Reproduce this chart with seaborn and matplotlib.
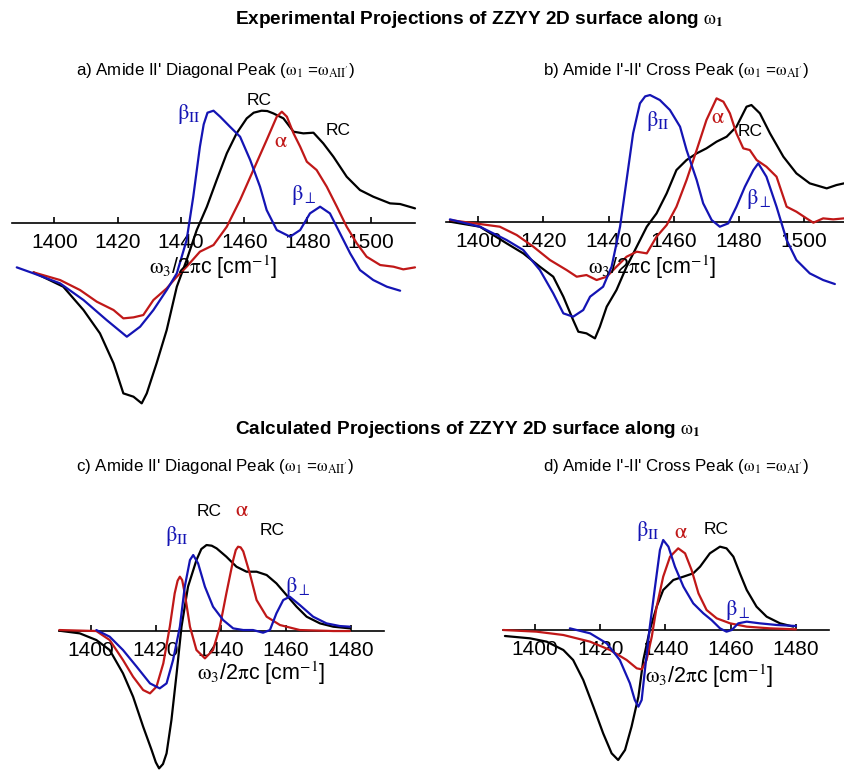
import numpy as np
import pandas as pd
import matplotlib
matplotlib.use("Agg")
import matplotlib.pyplot as plt
import seaborn as sns

# ---------------- data ----------------
# Panel a: Experimental, Amide II' diagonal peak
a_rc_x = [1393.4, 1402.8, 1409.2, 1414.4, 1418.7, 1421.8, 1425.0, 1427.6, 1429.2, 1432.3, 1435.5,
          1438.7, 1441.8, 1445.0, 1448.2, 1451.3, 1454.5, 1457.6, 1460.8, 1463.0, 1465.5, 1467.3,
          1469.2, 1472.4, 1475.6, 1478.7, 1481.9, 1485.0, 1488.2, 1492.4, 1496.6, 1500.8, 1506.1,
          1509.3, 1514.0]
a_rc_y = [-1.49, -1.92, -2.62, -3.32, -4.22, -5.12, -5.22, -5.42, -5.12, -4.22, -3.22,
          -1.92, -1.12, -0.22, 0.48, 1.28, 2.08, 2.68, 3.13, 3.30, 3.36, 3.35,
          3.28, 3.13, 2.73, 2.68, 2.70, 2.38, 1.98, 1.38, 0.98, 0.78, 0.58,
          0.56, 0.43]
a_al_x = [1393.4, 1401.8, 1408.1, 1413.4, 1418.7, 1421.8, 1425.0, 1428.1, 1431.3, 1435.5, 1438.7,
          1441.8, 1446.0, 1450.3, 1454.5, 1458.7, 1462.9, 1467.1, 1470.3, 1471.9, 1473.5, 1475.6,
          1477.7, 1479.8, 1482.9, 1486.1, 1489.3, 1492.4, 1495.6, 1498.7, 1503.0, 1507.2, 1510.3, 1514.0]
a_al_y = [-1.49, -1.72, -2.02, -2.37, -2.62, -2.87, -2.84, -2.77, -2.32, -1.97, -1.62,
          -1.32, -0.87, -0.67, -0.12, 0.68, 1.58, 2.48, 3.18, 3.33, 3.18, 2.68,
          2.28, 1.83, 1.58, 1.08, 0.48, -0.12, -0.62, -1.02, -1.27, -1.32, -1.40, -1.34]
a_be_x = [1388.1, 1393.4, 1401.8, 1409.2, 1416.5, 1422.9, 1427.1, 1431.3, 1435.5, 1438.7, 1441.8,
          1443.9, 1446.0, 1447.2, 1448.4, 1450.3, 1452.4, 1455.5, 1458.7, 1461.9, 1465.0, 1467.1,
          1470.3, 1474.5, 1477.7, 1480.8, 1484.0, 1487.1, 1490.3, 1493.5, 1496.6, 1500.8, 1505.1, 1509.3]
a_be_y = [-1.34, -1.52, -1.82, -2.32, -2.92, -3.42, -3.12, -2.62, -2.02, -1.52, -0.52,
          0.78, 2.28, 2.95, 3.30, 3.36, 3.18, 2.88, 2.58, 1.88, 1.08, 0.38,
          -0.22, -0.42, -0.22, 0.28, 0.48, 0.28, -0.32, -0.92, -1.42, -1.72, -1.92, -2.04]

# Panel b: Experimental, Amide I'-II' cross peak
b_rc_x = [1391.3, 1400.5, 1408.7, 1413.8, 1418.9, 1423.0, 1426.1, 1429.1, 1430.7, 1433.2, 1435.8,
          1437.3, 1439.4, 1442.4, 1445.5, 1448.6, 1451.7, 1454.7, 1457.8, 1460.8, 1463.9, 1467.0,
          1470.0, 1473.1, 1476.2, 1479.2, 1482.3, 1483.8, 1486.4, 1489.5, 1493.6, 1497.6, 1501.7,
          1506.9, 1509.9, 1512.2]
b_rc_y = [0.00, -0.15, -0.65, -0.95, -1.35, -1.65, -2.25, -2.95, -3.30, -3.35, -3.50,
          -3.15, -2.55, -2.05, -1.35, -0.75, -0.15, 0.25, 0.85, 1.55, 1.85, 2.05,
          2.20, 2.40, 2.55, 2.85, 3.45, 3.50, 3.25, 2.65, 1.95, 1.45, 1.15,
          1.00, 1.10, 1.15]
b_al_x = [1391.3, 1400.5, 1406.6, 1411.8, 1416.9, 1422.0, 1427.1, 1430.2, 1433.2, 1436.3, 1439.4,
          1442.4, 1445.5, 1448.6, 1451.7, 1454.7, 1457.8, 1460.8, 1463.9, 1467.0, 1470.0, 1473.1,
          1475.2, 1477.2, 1479.2, 1481.3, 1483.3, 1485.4, 1488.4, 1491.5, 1494.6, 1497.6, 1500.7,
          1502.8, 1505.8, 1508.9, 1512.2]
b_al_y = [0.05, -0.07, -0.15, -0.40, -0.75, -1.15, -1.45, -1.65, -1.60, -1.75, -1.65,
          -1.35, -1.05, -0.90, -0.95, -0.45, -0.10, 0.45, 1.25, 2.15, 3.05, 3.70,
          3.60, 3.25, 2.65, 2.20, 2.15, 1.85, 1.65, 1.35, 0.45, 0.30, 0.10,
          -0.03, 0.10, 0.07, 0.10]
b_be_x = [1391.3, 1400.5, 1408.7, 1413.8, 1418.9, 1423.0, 1426.1, 1429.1, 1432.2, 1434.3, 1438.3,
          1440.9, 1443.5, 1445.5, 1447.5, 1449.6, 1451.2, 1452.7, 1455.7, 1458.8, 1461.9, 1463.9,
          1467.0, 1469.0, 1471.6, 1474.1, 1476.7, 1479.2, 1481.8, 1484.4, 1485.9, 1488.4, 1491.5,
          1494.6, 1497.6, 1501.7, 1505.8, 1509.4]
b_be_y = [0.07, -0.15, -0.55, -0.85, -1.45, -2.15, -2.75, -2.85, -2.65, -2.25, -1.95,
          -1.35, -0.15, 1.25, 2.65, 3.55, 3.76, 3.80, 3.65, 3.35, 2.85, 2.15,
          1.25, 0.55, 0.05, -0.15, -0.05, 0.45, 1.05, 1.55, 1.75, 1.35, 0.45,
          -0.55, -1.15, -1.55, -1.75, -1.87]

# Panel c: Calculated, Amide II' diagonal peak
c_rc_x = [1390.3, 1396.6, 1401.7, 1405.8, 1409.9, 1413.0, 1416.1, 1418.7, 1420.0, 1421.0, 1422.2,
          1423.3, 1424.8, 1426.4, 1427.9, 1429.9, 1432.5, 1434.0, 1435.6, 1437.2, 1438.7, 1441.7,
          1444.8, 1447.9, 1451.0, 1454.1, 1457.1, 1460.2, 1463.3, 1466.4, 1470.5, 1474.6, 1479.7]
c_rc_y = [0.00, -0.08, -0.28, -0.58, -1.28, -1.98, -2.88, -3.58, -3.95, -4.13, -4.00,
          -3.68, -2.68, -1.28, 0.12, 1.32, 2.12, 2.45, 2.57, 2.55, 2.47, 2.22,
          1.92, 1.77, 1.77, 1.67, 1.42, 1.07, 0.72, 0.42, 0.22, 0.12, 0.07]
c_al_x = [1390.3, 1401.7, 1405.8, 1409.9, 1413.0, 1416.1, 1418.2, 1420.2, 1422.3, 1424.3, 1425.8,
          1426.7, 1427.4, 1428.1, 1428.9, 1430.5, 1432.5, 1435.1, 1437.6, 1439.7, 1441.7, 1443.8,
          1444.6, 1445.3, 1446.1, 1446.9, 1448.9, 1451.0, 1454.1, 1458.2, 1464.3, 1474.6, 1479.7]
c_al_y = [0.02, -0.01, -0.28, -0.88, -1.38, -1.78, -1.88, -1.68, -0.98, 0.12, 1.12,
          1.50, 1.62, 1.52, 1.12, 0.12, -0.58, -0.83, -0.58, 0.12, 1.12, 2.12,
          2.42, 2.52, 2.50, 2.38, 1.72, 0.92, 0.42, 0.17, 0.02, -0.01, -0.01]
c_be_x = [1401.7, 1405.8, 1409.9, 1414.1, 1418.2, 1421.2, 1423.3, 1425.3, 1427.4, 1428.9, 1430.5,
          1431.5, 1433.0, 1435.1, 1437.6, 1440.7, 1443.8, 1446.9, 1449.9, 1453.0, 1455.1, 1457.1,
          1459.2, 1461.2, 1464.3, 1468.4, 1472.5, 1476.6, 1479.7]
c_be_y = [0.02, -0.18, -0.58, -1.08, -1.58, -1.73, -1.58, -0.88, 0.12, 1.32, 2.12,
          2.27, 2.02, 1.32, 0.72, 0.32, 0.07, 0.02, 0.02, -0.06, 0.02, 0.52,
          0.92, 1.02, 0.77, 0.42, 0.22, 0.14, 0.12]

# Panel d: Calculated, Amide I'-II' cross peak
d_rc_x = [1390.8, 1398.5, 1403.6, 1408.7, 1411.7, 1414.8, 1417.9, 1420.9, 1423.5, 1425.5, 1427.6,
          1429.6, 1431.7, 1433.2, 1435.2, 1437.3, 1439.3, 1442.4, 1445.5, 1448.5, 1450.6, 1453.6,
          1456.7, 1458.7, 1460.8, 1462.8, 1464.9, 1467.9, 1471.0, 1475.1, 1479.2]
d_rc_y = [-0.18, -0.25, -0.35, -0.60, -0.90, -1.50, -2.30, -3.10, -3.70, -3.90, -3.60,
          -2.90, -2.00, -0.90, 0.00, 0.70, 1.20, 1.50, 1.60, 1.70, 1.90, 2.30,
          2.50, 2.45, 2.20, 1.70, 1.20, 0.70, 0.40, 0.20, 0.10]
d_al_x = [1390.3, 1400.5, 1408.7, 1416.9, 1423.0, 1428.1, 1431.2, 1432.7, 1434.2, 1435.8, 1437.3,
          1439.3, 1441.4, 1443.9, 1446.0, 1448.0, 1450.1, 1452.6, 1455.7, 1459.8, 1464.9, 1472.0, 1480.0]
d_al_y = [0.00, -0.05, -0.15, -0.35, -0.60, -0.90, -1.15, -1.18, -0.90, -0.20, 0.70,
          1.60, 2.20, 2.45, 2.30, 1.80, 1.10, 0.60, 0.35, 0.20, 0.10, 0.05, 0.02]
d_be_x = [1410.7, 1416.9, 1422.0, 1426.0, 1429.1, 1430.6, 1431.7, 1432.7, 1433.7, 1435.2, 1436.8,
          1438.3, 1439.3, 1440.9, 1442.9, 1445.5, 1448.5, 1451.6, 1454.1, 1456.7, 1458.7, 1460.3,
          1462.3, 1464.9, 1468.9, 1474.1, 1480.0]
d_be_y = [0.05, -0.10, -0.40, -0.90, -1.60, -2.10, -2.30, -2.10, -1.20, 0.10, 1.30,
          2.40, 2.70, 2.50, 1.90, 1.30, 0.80, 0.50, 0.30, 0.05, -0.05, 0.00,
          0.20, 0.25, 0.20, 0.15, 0.12]

series_names = ["RC", "alpha", "beta"]
ticks_exp = [1400, 1420, 1440, 1460, 1480, 1500]
ticks_calc = [1400, 1420, 1440, 1460, 1480]

title_exp = r"Experimental Projections of ZZYY 2D surface along $\mathrm{\omega}_\mathbf{1}$"
title_calc = r"Calculated Projections of ZZYY 2D surface along $\mathrm{\omega}_\mathbf{1}$"
sub_a = r"a) Amide II' Diagonal Peak ($\mathrm{\omega}_1$ =$\mathrm{\omega}_{\rm AII'}$)"
sub_b = r"b) Amide I'-II' Cross Peak ($\mathrm{\omega}_1$ =$\mathrm{\omega}_{\rm AI'}$)"
sub_c = r"c) Amide II' Diagonal Peak ($\mathrm{\omega}_1$ =$\mathrm{\omega}_{\rm AII'}$)"
sub_d = r"d) Amide I'-II' Cross Peak ($\mathrm{\omega}_1$ =$\mathrm{\omega}_{\rm AI'}$)"
xlabel_txt = r"$\mathrm{\omega}_3$/2$\mathrm{\pi}$c [cm$^{-1}$]"

# curve annotations: (text, x, y, series)
BII = r"$\mathrm{\beta}_{\rm II}$"
BP = r"$\mathrm{\beta}_\perp$"
AL = r"$\mathrm{\alpha}$"
ann_a = [(BII, 1442.6, 3.25, "beta"), ("RC", 1464.8, 3.66, "RC"),
         ("RC", 1489.8, 2.76, "RC"), (AL, 1471.7, 2.43, "alpha"),
         (BP, 1478.9, 0.83, "beta")]
ann_b = [(BII, 1455.2, 3.03, "beta"), (AL, 1473.6, 3.13, "alpha"),
         ("RC", 1483.3, 2.70, "RC"), (BP, 1486.2, 0.68, "beta")]
ann_c = [(BII, 1426.4, 2.84, "beta"), ("RC", 1436.5, 3.57, "RC"),
         (AL, 1446.4, 3.60, "alpha"), ("RC", 1455.9, 3.02, "RC"),
         (BP, 1463.6, 1.32, "beta")]
ann_d = [(BII, 1434.7, 2.97, "beta"), (AL, 1444.6, 2.93, "alpha"),
         ("RC", 1455.5, 3.00, "RC"), (BP, 1462.2, 0.60, "beta")]

colors = {"RC": "#000000", "alpha": "#c01818", "beta": "#1414b4"}

# ---------------- styling ----------------
sns.set_style("white")
plt.rcParams["font.family"] = ["Liberation Sans", "DejaVu Sans"]
plt.rcParams["text.color"] = "black"
plt.rcParams["mathtext.fontset"] = "custom"
plt.rcParams["mathtext.rm"] = "Liberation Sans"
plt.rcParams["mathtext.it"] = "Liberation Sans:italic"
plt.rcParams["mathtext.bf"] = "Liberation Sans:bold"

W, H = 844, 771
fig = plt.figure(figsize=(W / 100, H / 100), dpi=100)
S = 100.0 / 3.0  # pixels per data unit


def rect(left, right, y0, lo, hi):
    top = y0 - hi * S
    bottom = y0 - lo * S
    return [left / W, 1 - bottom / H, (right - left) / W, (bottom - top) / H]


def make_df(xs_rc, ys_rc, xs_al, ys_al, xs_be, ys_be):
    parts = []
    for name, xs, ys in (("RC", xs_rc, ys_rc), ("alpha", xs_al, ys_al), ("beta", xs_be, ys_be)):
        parts.append(pd.DataFrame({"x": xs, "y": ys, "series": name}))
    return pd.concat(parts, ignore_index=True)


panels = [
    dict(df=make_df(a_rc_x, a_rc_y, a_al_x, a_al_y, a_be_x, a_be_y),
         rect=rect(11.7, 415, 222.7, -5.6, 3.5), xlim=(1386.5, 1514.0), ylim=(-5.6, 3.5),
         ticks=ticks_exp, ann=ann_a, xl=(1450.2, -1.33)),
    dict(df=make_df(b_rc_x, b_rc_y, b_al_x, b_al_y, b_be_x, b_be_y),
         rect=rect(446, 844, 221.7, -3.7, 4.0), xlim=(1390.1, 1512.2), ylim=(-3.7, 4.0),
         ticks=ticks_exp, ann=ann_b, xl=(1453.3, -1.36)),
    dict(df=make_df(c_rc_x, c_rc_y, c_al_x, c_al_y, c_be_x, c_be_y),
         rect=rect(59.3, 384, 630.7, -4.2, 2.8), xlim=(1390.3, 1490.2), ylim=(-4.2, 2.8),
         ticks=ticks_calc, ann=ann_c, xl=(1452.5, -1.28)),
    dict(df=make_df(d_rc_x, d_rc_y, d_al_x, d_al_y, d_be_x, d_be_y),
         rect=rect(503.3, 829.3, 630.0, -4.2, 2.8), xlim=(1390.3, 1490.2), ylim=(-4.2, 2.8),
         ticks=ticks_calc, ann=ann_d, xl=(1453.4, -1.40)),
]

for p in panels:
    ax = fig.add_axes(p["rect"])
    ax.patch.set_alpha(0)
    sns.lineplot(data=p["df"], x="x", y="y", hue="series", hue_order=series_names,
                 palette=colors, estimator=None, sort=False, legend=False,
                 linewidth=1.6, ax=ax, zorder=3)
    for ln in ax.lines:
        ln.set_clip_on(False)
        ln.set_solid_joinstyle("round")
        ln.set_solid_capstyle("round")
    ax.set_xlim(*p["xlim"])
    ax.set_ylim(*p["ylim"])
    ax.set_xticks(p["ticks"])
    ax.set_yticks([])
    ax.set_xlabel("")
    ax.set_ylabel("")
    for sp in ("top", "right", "left"):
        ax.spines[sp].set_visible(False)
    ax.spines["bottom"].set_position(("data", 0))
    ax.spines["bottom"].set_linewidth(1.2)
    ax.spines["bottom"].set_color("black")
    ax.tick_params(axis="x", direction="in", length=4, width=1.2, labelsize=15,
                   pad=7.5, colors="black", bottom=True)
    ax.text(p["xl"][0], p["xl"][1], xlabel_txt, ha="center", va="center",
            fontsize=15.5, color="black", math_fontfamily="stix", zorder=4)
    for txt, x, y, ser in p["ann"]:
        if ser == "RC":
            ax.text(x, y, txt, ha="center", va="center", fontsize=12.5,
                    color=colors[ser], clip_on=False, zorder=5)
        else:
            ax.text(x, y, txt, ha="center", va="center", fontsize=16,
                    color=colors[ser], math_fontfamily="stix", clip_on=False, zorder=5)

# titles
fig.text(235 / W, 1 - 20 / H, title_exp, ha="left", va="center", fontsize=13.7,
         fontweight="bold", color="black", math_fontfamily="stix")
fig.text(235 / W, 1 - 430 / H, title_calc, ha="left", va="center", fontsize=13.7,
         fontweight="bold", color="black", math_fontfamily="stix")
for txt, cx, cy in ((sub_a, 216, 70), (sub_b, 676.5, 70), (sub_c, 215.5, 467), (sub_d, 676.5, 467)):
    fig.text(cx / W, 1 - cy / H, txt, ha="center", va="center", fontsize=12.2,
             color="black", math_fontfamily="stix")

fig.savefig("out.png", dpi=100)
